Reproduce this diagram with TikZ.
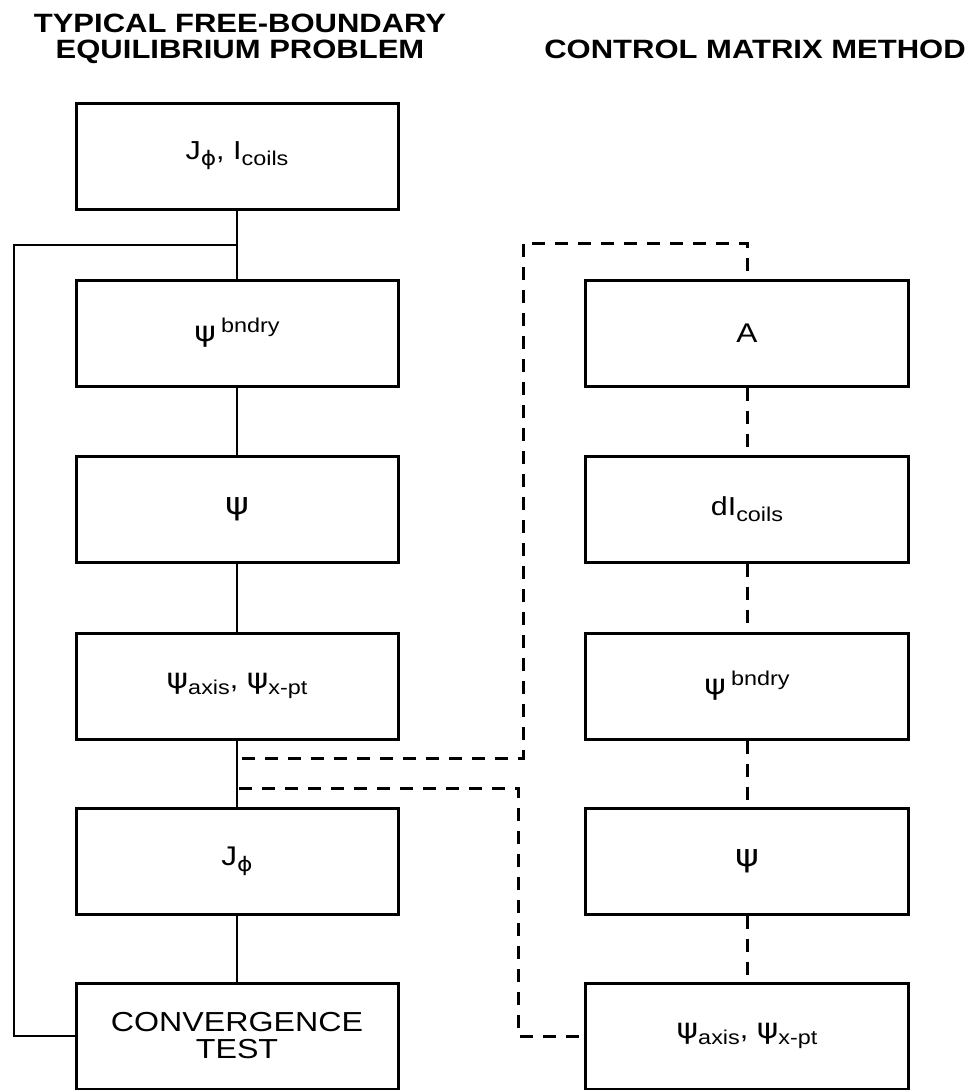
\documentclass[tikz,border=0pt]{standalone}
\usepackage{fontspec}
\setmainfont{Liberation Sans}
\newfontfamily\gkfont{DejaVu Sans}
\newcommand\wt[1]{\scalebox{1.17}[1]{#1}}
\newcommand\lo[1]{\raisebox{-6pt}{\fontsize{20}{20}\selectfont #1}}
\newcommand\hi[1]{\raisebox{9pt}{\fontsize{20}{20}\selectfont #1}}
\newcommand\psy{{\gkfont\fontsize{28}{28}\selectfont ψ}}
\newcommand\phy{{\gkfont ϕ}}
\begin{document}
\begin{tikzpicture}[x=1pt,y=-1pt,
  box/.style={draw,line width=3pt,minimum width=322pt,minimum height=106pt,inner sep=0pt,
    font=\fontsize{26}{28}\selectfont,align=center},
  solidline/.style={line width=2.4pt},
  fbline/.style={line width=2.8pt},
  dashline/.style={line width=3pt,dash pattern=on 13pt off 10pt},
  title/.style={font=\bfseries\fontsize{26.5}{26}\selectfont,inner sep=0pt,anchor=base}]
\useasboundingbox (0,0) rectangle (978,1090);

% titles
\node[title] (t1) at (240,32) {\wt{TYPICAL FREE-BOUNDARY}};
\node[title] (t2) at (240,58) {\wt{EQUILIBRIUM PROBLEM}};
\node[title] (t3) at (755,58) {\wt{CONTROL MATRIX METHOD}};

% left column
\node[box] (b1) at (237,156) {\wt{J\lo{\phy}, I\lo{coils}}};
\node[box] (b2) at (237,333) {\wt{\psy\,\hi{bndry}}};
\node[box] (b3) at (237,509) {\wt{\fontsize{31}{31}\selectfont\gkfont ψ}};
\node[box] (b4) at (237,686) {\wt{\psy\lo{axis}, \psy\lo{x-pt}}};
\node[box] (b5) at (237,861) {\wt{\fontsize{27}{27}\selectfont J\lo{\phy}}};
\node[box,font=\fontsize{27.5}{27}\selectfont] (b6) at (237,1036) {\wt{CONVERGENCE}\\\wt{TEST}};

% right column
\node[box,minimum width=323pt] (r1) at (747,333) {\wt{\fontsize{27}{27}\selectfont A}};
\node[box,minimum width=323pt] (r2) at (747,509) {\wt{dI\lo{coils}}};
\node[box,minimum width=323pt] (r3) at (747,686) {\wt{\psy\,\hi{bndry}}};
\node[box,minimum width=323pt] (r4) at (747,861) {\wt{\fontsize{31}{31}\selectfont\gkfont ψ}};
\node[box,minimum width=323pt] (r5) at (747,1036) {\wt{\psy\lo{axis}, \psy\lo{x-pt}}};

% solid connectors
\draw[solidline] (b1.south) -- (b2.north);
\draw[solidline] (b2.south) -- (b3.north);
\draw[solidline] (b3.south) -- (b4.north);
\draw[solidline] (b4.south) -- (b5.north);
\draw[solidline] (b5.south) -- (b6.north);

% feedback loop
\coordinate (jn) at (237,245);
\coordinate (fb) at (14,245);
\draw[fbline] (b6.west) -| (fb) -- (jn);

% dashed connectors in right column
\draw[dashline] (r1.south) -- (r2.north);
\draw[dashline] (r2.south) -- (r3.north);
\draw[dashline] (r3.south) -- (r4.north);
\draw[dashline] (r4.south) -- (r5.north);

% dashed links from left to right
\coordinate (d1s) at (242,758);
\coordinate (d1a) at (523,758);
\coordinate (d1b) at (523,243);
\draw[dashline] (d1s) -- (d1a) -- (d1b) -| (r1.north);

\coordinate (d2s) at (239,788);
\coordinate (d2a) at (518,788);
\draw[dashline] (d2s) -- (d2a) |- (r5.west);
\end{tikzpicture}
\end{document}
